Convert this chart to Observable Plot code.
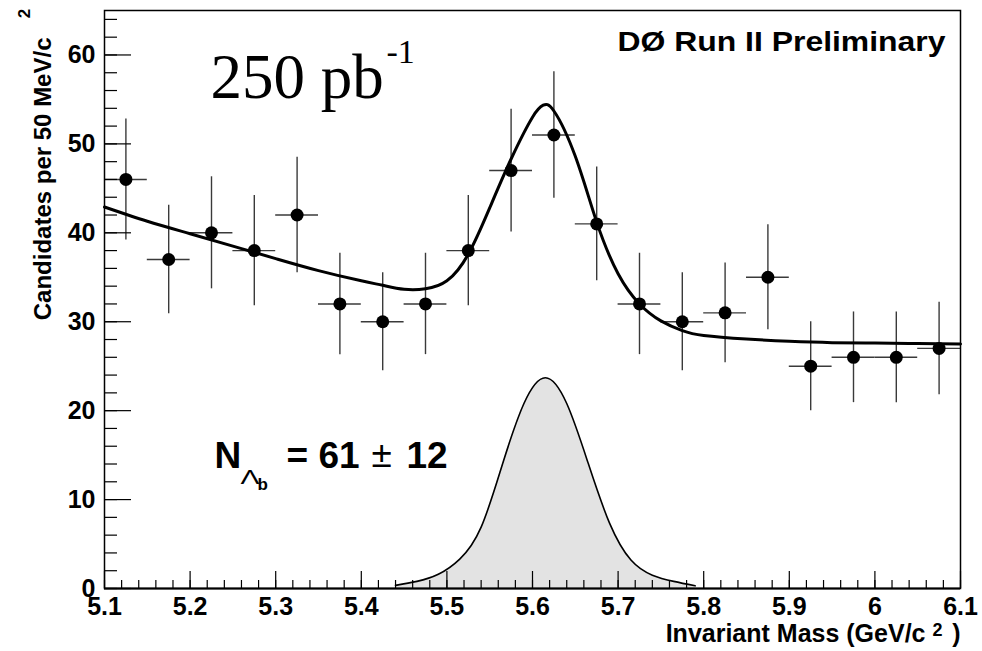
<!DOCTYPE html>
<html><head><meta charset="utf-8">
<script src="https://cdn.jsdelivr.net/npm/d3@7"></script>
<script src="https://cdn.jsdelivr.net/npm/@observablehq/plot@0.6"></script>
<style>
html,body{margin:0;padding:0;background:#fff;}
#chart svg{display:block;}
</style></head><body><div id="chart"></div>
<script>
// ---- data ----
const binMass = [5.125, 5.175, 5.225, 5.275, 5.325, 5.375, 5.425, 5.475, 5.525, 5.575,
                 5.625, 5.675, 5.725, 5.775, 5.825, 5.875, 5.925, 5.975, 6.025, 6.075];
const binCounts = [46, 37, 40, 38, 42, 32, 30, 32, 38, 47, 51, 41, 32, 30, 31, 35, 25, 26, 26, 27];
const binErrors = [6.8, 6.1, 6.3, 6.2, 6.5, 5.7, 5.5, 5.7, 6.2, 6.9, 7.1, 6.4, 5.7, 5.5, 5.6, 5.9, 5.0, 5.1, 5.1, 5.2];
const binHalfWidth = 0.025;

const fitMass = [5.10, 5.15, 5.20, 5.25, 5.30, 5.35, 5.40, 5.425, 5.45, 5.475, 5.50, 5.525, 5.55, 5.575,
                 5.60, 5.6125, 5.625, 5.65, 5.675, 5.70, 5.725, 5.75, 5.775, 5.80, 5.85, 5.90, 5.95, 6.00, 6.05, 6.10];
const fitCounts = [42.9, 41.3, 39.9, 38.5, 37.1, 35.75, 34.6, 34.1, 33.65, 33.7, 34.6, 37.6, 42.8, 48.3,
                   53.0, 54.35, 53.7, 48.6, 41.2, 35.4, 32.0, 30.1, 29.0, 28.45, 28.05, 27.8, 27.65, 27.6, 27.55, 27.5];

const sigMass = [5.44, 5.465, 5.49, 5.515, 5.54, 5.565, 5.59, 5.615, 5.64, 5.665, 5.69, 5.715, 5.74, 5.765, 5.79];
const sigCounts = [0.35, 0.8, 1.6, 3.3, 6.9, 14.0, 20.8, 23.7, 20.8, 14.1, 7.35, 3.2, 1.5, 0.8, 0.3];

const xTickValues = [5.1, 5.2, 5.3, 5.4, 5.5, 5.6, 5.7, 5.8, 5.9, 6.0, 6.1];
const xTickLabels = ["5.1", "5.2", "5.3", "5.4", "5.5", "5.6", "5.7", "5.8", "5.9", "6", "6.1"];
const yTickValues = [0, 10, 20, 30, 40, 50, 60];
const yTickLabels = ["0", "10", "20", "30", "40", "50", "60"];
const xMinorStep = 0.02, yMinorStep = 2;

// ---- build tables ----
const bins = binMass.map((m, i) => ({mass: m, n: binCounts[i], err: binErrors[i]}));
const fit = fitMass.map((m, i) => ({mass: m, n: fitCounts[i]}));
const sig = sigMass.map((m, i) => ({mass: m, n: sigCounts[i]}));
const xMinor = d3.range(0, 51).map(k => +(5.1 + k * xMinorStep).toFixed(3));
const yMinor = d3.range(0, 33).map(k => k * yMinorStep);

const W = 982, H = 651;
const mL = 104, mR = 22, mT = 10, mB = 63;
const frameW = W - mL - mR, frameH = H - mT - mB;
const SANS = "'Liberation Sans', Arial, Helvetica, sans-serif";
const SERIF = "'Liberation Serif', 'Times New Roman', serif";

function txt(s, px, py, o = {}) {
  return Plot.text([s], {text: d => d, frameAnchor: "top-left", dx: px - mL, dy: py - mT,
    lineAnchor: "bottom", textAnchor: "start", fill: "black", fontFamily: SANS, ...o});
}

const chart = Plot.plot({
  width: W, height: H,
  marginLeft: mL, marginRight: mR, marginTop: mT, marginBottom: mB,
  style: {fontFamily: SANS, background: "white", color: "black"},
  x: {domain: [5.1, 6.1]},
  y: {domain: [0, 65]},
  marks: [
    // signal gaussian
    Plot.areaY(sig, {x: "mass", y: "n", fill: "#e3e3e3", curve: "natural"}),
    Plot.line(sig, {x: "mass", y: "n", stroke: "black", strokeWidth: 1.6, curve: "natural"}),
    // error bars
    Plot.ruleX(bins, {x: "mass", y1: d => d.n - d.err, y2: d => d.n + d.err, stroke: "#3a3a3a", strokeWidth: 1.4}),
    Plot.ruleY(bins, {y: "n", x1: d => d.mass - binHalfWidth, x2: d => d.mass + binHalfWidth, stroke: "#3a3a3a", strokeWidth: 1.4}),
    // fit
    Plot.line(fit, {x: "mass", y: "n", stroke: "black", strokeWidth: 3, curve: "natural"}),
    // points
    Plot.dot(bins, {x: "mass", y: "n", r: 6.5, fill: "black", stroke: "none"}),
    // inward ticks
    Plot.ruleX(xMinor, {x: d => d, insetTop: frameH - 8, stroke: "black", strokeWidth: 1.2}),
    Plot.ruleX(xTickValues, {x: d => d, insetTop: frameH - 17, stroke: "black", strokeWidth: 1.2}),
    Plot.ruleY(yMinor, {y: d => d, insetRight: frameW - 13, stroke: "black", strokeWidth: 1.2}),
    Plot.ruleY(yTickValues, {y: d => d, insetRight: frameW - 27, stroke: "black", strokeWidth: 1.2}),
    // axes (labels only)
    Plot.axisX(xTickValues, {anchor: "bottom", tickSize: 0, tickPadding: 9, label: null,
      tickFormat: d => xTickLabels[xTickValues.indexOf(d)], fontSize: 25, fontWeight: "bold", fill: "black"}),
    Plot.axisY(yTickValues, {anchor: "left", tickSize: 0, tickPadding: 9, label: null,
      tickFormat: d => yTickLabels[yTickValues.indexOf(d)], fontSize: 25, fontWeight: "bold", fill: "black"}),
    Plot.frame({stroke: "black", strokeWidth: 1.5}),
    Plot.ruleY([0], {stroke: "black", strokeWidth: 2}),
    // titles
    txt("Invariant Mass (GeV/c", 925, 641, {textAnchor: "end", fontSize: 25, fontWeight: "bold"}),
    txt("2", 937, 630, {textAnchor: "middle", lineAnchor: "middle", fontSize: 18, fontWeight: "bold"}),
    txt(")", 960, 641, {textAnchor: "end", fontSize: 25, fontWeight: "bold"}),
    txt("Candidates per 50 MeV/c", 50, 37, {textAnchor: "end", rotate: -90, fontSize: 24, fontWeight: "bold"}),
    txt("2", 24, 13, {textAnchor: "middle", lineAnchor: "middle", rotate: -90, fontSize: 17, fontWeight: "bold"}),
    // annotations
    txt("DØ Run II Preliminary", 945, 50, {textAnchor: "end", fontSize: 28, fontWeight: "bold"}),
    txt("250 pb", 210, 97, {fontFamily: SERIF, fontSize: 63}),
    txt("-1", 386, 62, {fontFamily: SERIF, fontSize: 34}),
    txt("N", 214, 467, {fontSize: 37, fontWeight: "bold"}),
    txt("Λ", 240, 483, {fontSize: 21}),
    txt("b", 257, 489, {fontSize: 17, fontWeight: "bold"}),
    txt("= 61", 286, 467, {fontSize: 37, fontWeight: "bold"}),
    txt("±", 371, 466, {fontSize: 37}),
    txt("12", 406, 467, {fontSize: 37, fontWeight: "bold"})
  ]
});
// stretch a few texts horizontally like the (stretched) reference
const stretch = {"DØ Run II Preliminary": 328, "Λ": 19};
d3.select(chart).selectAll("text").each(function() {
  const w = stretch[this.textContent];
  if (w) d3.select(this).attr("textLength", w).attr("lengthAdjust", "spacingAndGlyphs");
});
document.getElementById("chart").append(chart);
</script>
</body></html>
